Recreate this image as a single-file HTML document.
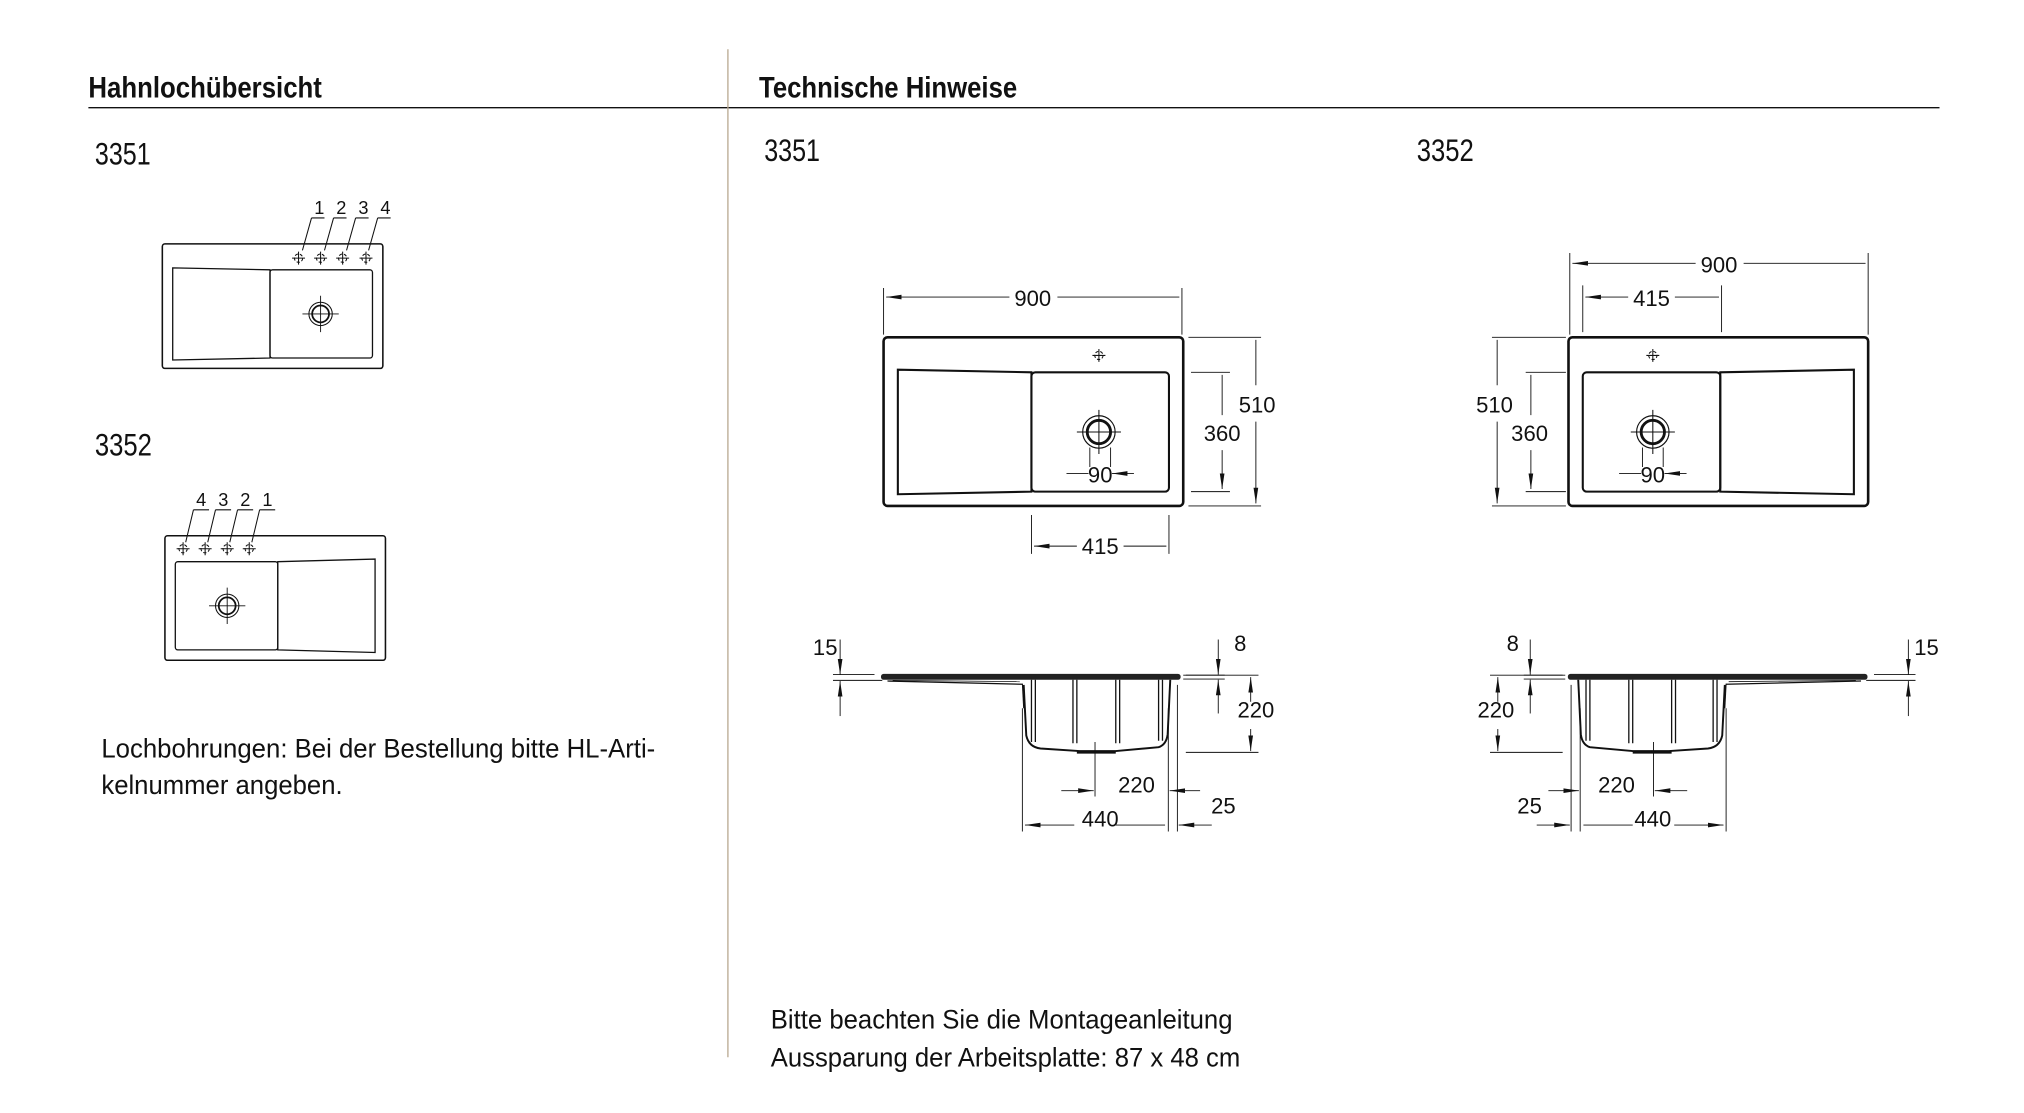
<!DOCTYPE html>
<html><head><meta charset="utf-8"><style>
html,body{margin:0;padding:0;background:#fff;}
svg{display:block;}
text{font-family:"Liberation Sans Narrow","Liberation Sans",sans-serif;fill:#111;}
.d{font-family:"Liberation Sans",sans-serif;font-size:17px;}
</style></head><body>
<svg width="2024" height="1113" viewBox="0 0 1560 858" xmlns="http://www.w3.org/2000/svg">
<defs>
<marker id="a" viewBox="0 0 12 6" refX="12" refY="3" markerWidth="12" markerHeight="6" markerUnits="userSpaceOnUse" orient="auto-start-reverse"><path d="M0,1.2 L12,3 L0,4.8 Z" fill="#111"/></marker>
<g id="tap"><circle cx="0" cy="0" r="3.2" fill="none" stroke="#111" stroke-width="0.8" stroke-dasharray="2.5 1.5"/><path d="M-5,0H5M0,-5V5" stroke="#111" stroke-width="0.8"/></g>
<g id="drainL"><circle r="12.5" fill="none" stroke="#111" stroke-width="0.9"/><circle r="9" fill="none" stroke="#111" stroke-width="2.2"/><path d="M-17,0H17M0,-17V17" stroke="#111" stroke-width="0.8"/></g>
<g id="drainS"><circle r="9" fill="none" stroke="#111" stroke-width="0.8"/><circle r="6.5" fill="none" stroke="#111" stroke-width="1.4"/><path d="M-14,0H14M0,-14V14" stroke="#111" stroke-width="0.7"/></g>
<g id="sinkTop" fill="none" stroke="#111">
<rect x="681" y="260" width="231" height="130" rx="3" stroke-width="2"/>
<path d="M692,285 L795,287 L795,379 L692,381 Z" stroke-width="1.6"/>
<rect x="795" y="287" width="106" height="92" rx="3" stroke-width="1.6"/>
<use href="#tap" x="847" y="274"/>
<use href="#drainL" x="847" y="333"/>
</g>
<g id="side" fill="none" stroke="#111">
<rect x="679" y="519.5" width="231" height="4.5" rx="2" fill="#222" stroke="none"/>
<path d="M684,525 L788,527.5" stroke-width="1"/>
<path d="M688,524.5 L786,525.5" stroke-width="0.6"/>
<path d="M788,527 L789,546" stroke-width="0.8"/>
<path d="M789,528 L791,567 Q793,576 802,577 L832,579 L860,579 L893,576 Q899,574 900,566 L902,524" stroke-width="1.5"/>
<path d="M830,580 L860,580" stroke-width="2"/>
<path d="M795,524V572M798,524V572M827,524V573M830,524V573M860,524V573M863,524V573M893,524V571M896,524V571" stroke-width="1"/>
<path d="M642,520H674M642,524.5H680" stroke-width="0.7"/>
<path d="M647.5,493V520" stroke-width="0.7" marker-end="url(#a)"/>
<path d="M647.5,552V525" stroke-width="0.7" marker-end="url(#a)"/>
<path d="M912,520.5H944M912,523.5H944" stroke-width="0.7"/>
<path d="M939,493V520" stroke-width="0.7" marker-end="url(#a)"/>
<path d="M939,550V524" stroke-width="0.7" marker-end="url(#a)"/>
<path d="M914,520.5H970M914,580H970" stroke-width="0.7"/>
<path d="M964,541V522" stroke-width="0.7" marker-end="url(#a)"/>
<path d="M964,562V579" stroke-width="0.7" marker-end="url(#a)"/>
<path d="M844,572V614M788,546V641M900.5,546V641M907.5,528V641" stroke-width="0.7"/>
<path d="M818,609.5H843" stroke-width="0.7" marker-end="url(#a)"/>
<path d="M790,636H828M898,636H860" stroke-width="0.7" marker-start="url(#a)"/>
<path d="M925,609.5H901.5" stroke-width="0.7" marker-end="url(#a)"/>
<path d="M934,636H908.5" stroke-width="0.7" marker-end="url(#a)"/>
</g>
</defs>

<text x="68" y="75" font-size="23" font-weight="bold" textLength="180" lengthAdjust="spacingAndGlyphs">Hahnlochübersicht</text>
<text x="585" y="75" font-size="23" font-weight="bold" textLength="199" lengthAdjust="spacingAndGlyphs">Technische Hinweise</text>
<line x1="68" y1="83" x2="1495" y2="83" stroke="#111" stroke-width="1"/>
<line x1="561" y1="38" x2="561" y2="815" stroke="#b8a890" stroke-width="1"/>

<text x="73" y="127" font-size="24" textLength="43" lengthAdjust="spacingAndGlyphs">3351</text>
<text x="73" y="351" font-size="24" textLength="44" lengthAdjust="spacingAndGlyphs">3352</text>
<text x="589" y="124" font-size="24" textLength="43" lengthAdjust="spacingAndGlyphs">3351</text>
<text x="1092" y="124" font-size="24" textLength="44" lengthAdjust="spacingAndGlyphs">3352</text>

<g fill="none" stroke="#111">
<rect x="125" y="188" width="170" height="96" rx="2" stroke-width="1.2"/>
<path d="M133,206.5 L208,208 L208,276 L133,277.5 Z" stroke-width="1"/>
<rect x="208" y="208" width="79" height="68" rx="2" stroke-width="1"/>
<path d="M240,168H250M257,168H267M274,168H284M291,168H301" stroke-width="0.8"/>
<path d="M240,168L233,193M257,168L250,193M274,168L267,193M291,168L284,193" stroke-width="0.8"/>
</g>
<use href="#drainS" x="247" y="242"/>
<use href="#tap" x="230" y="199"/><use href="#tap" x="247" y="199"/><use href="#tap" x="264" y="199"/><use href="#tap" x="282" y="199"/>
<g font-size="14" text-anchor="middle"><text x="246" y="165">1</text><text x="263" y="165">2</text><text x="280" y="165">3</text><text x="297" y="165">4</text></g>

<g fill="none" stroke="#111">
<rect x="127" y="413" width="170" height="96" rx="2" stroke-width="1.2"/>
<rect x="135" y="433" width="79" height="68" rx="2" stroke-width="1"/>
<path d="M214,433 L289,431 L289,503 L214,501 Z" stroke-width="1"/>
<path d="M149,393H161M166,393H178M183,393H195M200,393H212" stroke-width="0.8"/>
<path d="M149,393L143,418M166,393L160,418M183,393L177,418M200,393L194,418" stroke-width="0.8"/>
</g>
<use href="#drainS" x="175" y="467"/>
<use href="#tap" x="141" y="423"/><use href="#tap" x="158" y="423"/><use href="#tap" x="175" y="423"/><use href="#tap" x="192" y="423"/>
<g font-size="14" text-anchor="middle"><text x="155" y="390">4</text><text x="172" y="390">3</text><text x="189" y="390">2</text><text x="206" y="390">1</text></g>

<text x="78" y="584" font-size="21" textLength="427" lengthAdjust="spacingAndGlyphs">Lochbohrungen: Bei der Bestellung bitte HL-Arti-</text>
<text x="78" y="612" font-size="21" textLength="186" lengthAdjust="spacingAndGlyphs">kelnummer angeben.</text>

<use href="#sinkTop"/>
<g fill="none" stroke="#111" stroke-width="0.7">
<path d="M681,222V258M911,222V258"/>
<path d="M683,229H778M909,229H815" marker-start="url(#a)"/>
<path d="M916,260H972M916,390H972M918,287H948M918,379H948"/>
<path d="M968,297V262M968,325V388" marker-end="url(#a)"/>
<path d="M942,320V289M942,347V377" marker-end="url(#a)"/>
<path d="M795,397V427M901,397V427"/>
<path d="M797,421H830M899,421H866" marker-start="url(#a)"/>
<path d="M840,345V360M856,345V360"/>
<path d="M822,365H839M874,365H857" marker-end="url(#a)"/>
</g>
<g class="d" text-anchor="middle">
<text x="796" y="236">900</text><text x="969" y="318">510</text><text x="942" y="340">360</text><text x="848" y="427">415</text><text x="848" y="372">90</text>
</g>

<use href="#sinkTop" transform="translate(2121,0) scale(-1,1)"/>
<g fill="none" stroke="#111" stroke-width="0.7">
<path d="M1210,195V258M1440,195V258"/>
<path d="M1212,203H1307M1438,203H1344" marker-start="url(#a)"/>
<path d="M1220,220V256M1327,220V256"/>
<path d="M1222,229H1255M1325,229H1291" marker-start="url(#a)"/>
<path d="M1150,260H1207M1150,390H1207M1176,287H1207M1176,379H1207"/>
<path d="M1154,297V262M1154,325V388" marker-end="url(#a)"/>
<path d="M1180,320V289M1180,347V377" marker-end="url(#a)"/>
<path d="M1266,345V360M1282,345V360"/>
<path d="M1248,365H1265M1300,365H1283" marker-end="url(#a)"/>
</g>
<g class="d" text-anchor="middle">
<text x="1325" y="210">900</text><text x="1273" y="236">415</text><text x="1152" y="318">510</text><text x="1179" y="340">360</text><text x="1274" y="372">90</text>
</g>

<use href="#side"/>
<g class="d" text-anchor="middle">
<text x="636" y="505">15</text><text x="956" y="502">8</text><text x="968" y="553">220</text><text x="876" y="611">220</text><text x="848" y="637">440</text><text x="943" y="627">25</text>
</g>
<use href="#side" transform="translate(2118.5,0) scale(-1,1)"/>
<g class="d" text-anchor="middle">
<text x="1485" y="505">15</text><text x="1166" y="502">8</text><text x="1153" y="553">220</text><text x="1246" y="611">220</text><text x="1274" y="637">440</text><text x="1179" y="627">25</text>
</g>

<text x="594" y="793" font-size="21" textLength="356" lengthAdjust="spacingAndGlyphs">Bitte beachten Sie die Montageanleitung</text>
<text x="594" y="822" font-size="21" textLength="362" lengthAdjust="spacingAndGlyphs">Aussparung der Arbeitsplatte: 87 x 48 cm</text>
</svg>
</body></html>
